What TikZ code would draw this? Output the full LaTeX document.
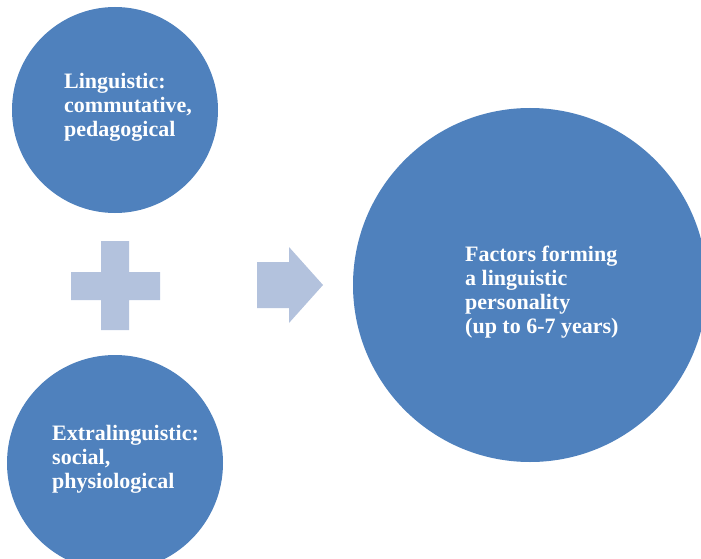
\documentclass[tikz,border=0pt]{standalone}
\usepackage{fontspec}
\setmainfont{Liberation Serif}
\definecolor{circblue}{HTML}{4F81BD}
\definecolor{lightop}{HTML}{B3C2DD}
\begin{document}
\begin{tikzpicture}[x=1pt,y=-1pt,
  circ/.style={circle,fill=circblue,draw=none,inner sep=0pt},
  lbl/.style={anchor=west,align=left,text=white,inner sep=0pt,
    font=\fontsize{22}{24}\selectfont\bfseries},
  opshape/.style={fill=lightop,draw=none}]
\useasboundingbox (0,0) rectangle (701,559);
\clip (0,0) rectangle (701,559);
% circles
\node[circ,minimum size=206pt] (c1) at (115,110) {};
\node[circ,minimum size=216pt] (c2) at (115,463) {};
\node[circ,minimum size=354pt] (c3) at (530,285) {};
% texts
\node[lbl] (t1) at (64,107.5) {Linguistic:\\commutative,\\pedagogical};
\node[lbl] (t2) at (52,459.5) {Extralinguistic:\\social,\\physiological};
\node[lbl] (t3) at (465,292.5) {Factors forming\\a linguistic\\personality\\(up to 6-7 years)};
% plus sign
\fill[opshape] (101,241) -- (129,241) -- (129,272) -- (160,272) -- (160,300)
  -- (129,300) -- (129,330) -- (101,330) -- (101,300) -- (71,300) -- (71,272)
  -- (101,272) -- cycle;
% arrow
\fill[opshape] (257,262) -- (289,262) -- (289,247) -- (323,285) -- (289,323)
  -- (289,308) -- (257,308) -- cycle;
\end{tikzpicture}
\end{document}
